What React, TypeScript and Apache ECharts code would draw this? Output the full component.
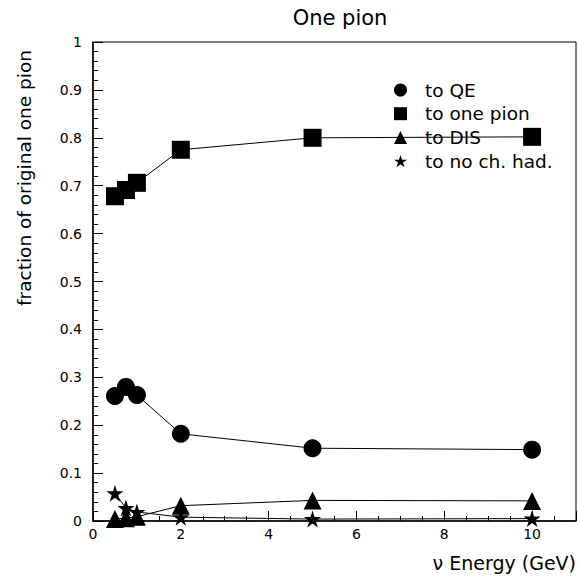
import React, { useEffect, useRef } from "react";
import * as echarts from "echarts";

const energies = [0.5, 0.75, 1, 2, 5, 10];
const toQE = [0.261, 0.28, 0.263, 0.182, 0.152, 0.149];
const toOnePion = [0.678, 0.691, 0.706, 0.775, 0.8, 0.802];
const toDIS = [0.004, 0.006, 0.009, 0.032, 0.043, 0.042];
const toNoChHad = [0.058, 0.027, 0.019, 0.008, 0.004, 0.005];
const seriesNames = ["to QE", "to one pion", "to DIS", "to no ch. had."];

const STAR =
  "path://M50,0 L61.2,34.5 L97.6,34.5 L68.2,55.9 L79.4,90.5 L50,69.1 L20.6,90.5 L31.8,55.9 L2.4,34.5 L38.8,34.5 Z";

const FONT = "DejaVu Sans";

export default function App() {
  const ref = useRef<HTMLDivElement>(null);
  useEffect(() => {
    if (!ref.current) return;
    const chart = echarts.init(ref.current, undefined, { renderer: "svg" });
    const mk = (vals: number[]) => energies.map((e, i) => [e, vals[i]]);
    const lineStyle = { color: "#000", width: 1 };
    const itemStyle = { color: "#000" };
    chart.setOption({
      animation: false,
      backgroundColor: "#fff",
      title: {
        text: "One pion",
        left: 335,
        top: 2,
        textAlign: "center",
        textStyle: { fontFamily: FONT, fontSize: 21, fontWeight: "normal", color: "#000" },
      },
      grid: {
        left: 93,
        right: 2,
        top: 42,
        bottom: 57,
        show: true,
        borderColor: "#000",
        borderWidth: 1,
        backgroundColor: "transparent",
      },
      legend: {
        orient: "vertical",
        left: 394,
        top: 80,
        padding: 0,
        itemGap: 3.7,
        itemWidth: 13,
        itemHeight: 13,
        textStyle: {
          fontFamily: FONT,
          fontSize: 18.5,
          lineHeight: 20,
          color: "#000",
          padding: [0, 0, 0, 13],
        },
        data: [
          { name: seriesNames[0], icon: "circle" },
          { name: seriesNames[1], icon: "rect" },
          { name: seriesNames[2], icon: "triangle" },
          { name: seriesNames[3], icon: STAR },
        ],
      },
      xAxis: {
        type: "value",
        min: 0,
        max: 11,
        interval: 2,
        axisLine: { show: true, lineStyle: { color: "#000", width: 1.5 } },
        axisTick: { show: true, inside: true, length: 10, lineStyle: { color: "#000" } },
        minorTick: { show: true, splitNumber: 4, length: 5, lineStyle: { color: "#000" } },
        splitLine: { show: false },
        axisLabel: {
          color: "#000",
          fontFamily: FONT,
          fontSize: 14,
          margin: 6,
          showMaxLabel: false,
          formatter: (v: number) => (v > 10 ? "" : String(v)),
        },
      },
      yAxis: {
        type: "value",
        min: 0,
        max: 1,
        interval: 0.1,
        axisLine: { show: true, lineStyle: { color: "#000", width: 1.5 } },
        axisTick: { show: true, inside: true, length: 10, lineStyle: { color: "#000" } },
        minorTick: { show: true, splitNumber: 5, length: 5, lineStyle: { color: "#000" } },
        splitLine: { show: false },
        axisLabel: {
          color: "#000",
          fontFamily: FONT,
          fontSize: 14,
          margin: 11,
          formatter: (v: number) => String(Math.round(v * 10) / 10),
        },
      },
      graphic: [
        {
          type: "text",
          x: 24,
          y: 178,
          rotation: Math.PI / 2,
          style: {
            text: "fraction of original one pion",
            fontFamily: FONT,
            fontSize: 18.5,
            fill: "#000",
            textAlign: "center",
            textVerticalAlign: "middle",
          },
        },
        {
          type: "text",
          x: 576,
          y: 563,
          style: {
            text: "\u03bd Energy (GeV)",
            fontFamily: FONT,
            fontSize: 19,
            fill: "#000",
            textAlign: "right",
            textVerticalAlign: "middle",
          },
        },
      ],
      series: [
        {
          name: seriesNames[0],
          type: "line",
          data: mk(toQE),
          symbol: "circle",
          symbolSize: 18,
          lineStyle,
          itemStyle,
        },
        {
          name: seriesNames[1],
          type: "line",
          data: mk(toOnePion),
          symbol: "rect",
          symbolSize: 18,
          lineStyle,
          itemStyle,
        },
        {
          name: seriesNames[2],
          type: "line",
          data: mk(toDIS),
          symbol: "triangle",
          symbolSize: 18,
          lineStyle,
          itemStyle,
        },
        {
          name: seriesNames[3],
          type: "line",
          data: mk(toNoChHad),
          symbol: STAR,
          symbolSize: 17,
          lineStyle,
          itemStyle,
        },
      ],
    });
    return () => chart.dispose();
  }, []);
  return (
    <div
      ref={ref}
      style={{ position: "fixed", left: 0, top: 0, width: 578, height: 578 }}
    />
  );
}
